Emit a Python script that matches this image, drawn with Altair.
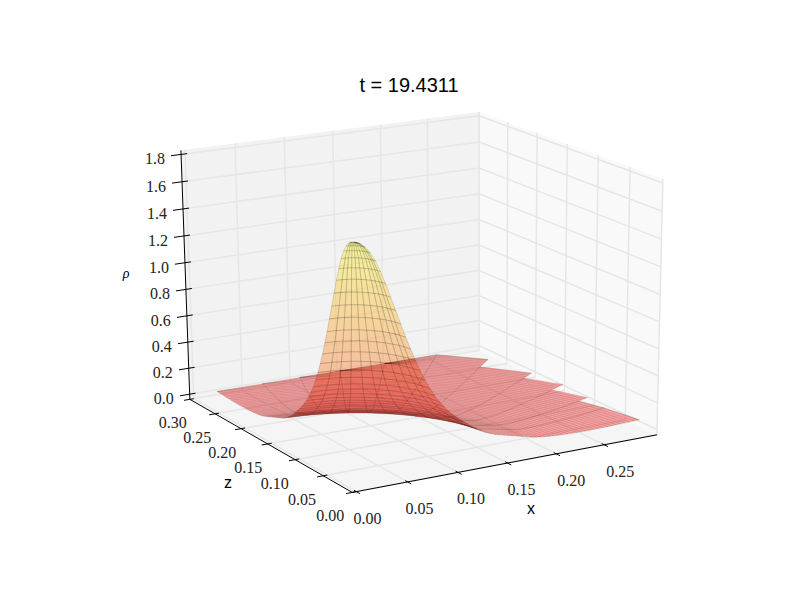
import numpy as np
import pandas as pd
import altair as alt

TITLE = "t = 19.4311"
X_TICKS = [0.00, 0.05, 0.10, 0.15, 0.20, 0.25]
Z_TICKS = [0.00, 0.05, 0.10, 0.15, 0.20, 0.25, 0.30]
RHO_TICKS = [0.0, 0.2, 0.4, 0.6, 0.8, 1.0, 1.2, 1.4, 1.6, 1.8]
X_MIN, X_MAX, Z_MIN, Z_MAX, RHO_MIN, RHO_MAX = -0.004, 0.306, 0.0, 0.30, -0.04, 1.83

# surface: polar sectors around the origin, radial rings, density on each ring
THETA_DEG = [5.5, 14, 19.5, 26.5, 33.3, 41.5, 49, 56, 63, 70, 77, 86]
SECTOR_R_LO = [0.309, 0.309, 0.322, 0.342, 0.360, 0.385, 0.388, 0.353, 0.329, 0.312, 0.301]
SECTOR_R_HI = [0.309, 0.309, 0.322, 0.342, 0.360, 0.388, 0.353, 0.329, 0.312, 0.301, 0.294]
RING_R = [0.0025 + 0.005 * i for i in range(80)]
RING_RHO = [1.70, 1.685, 1.655, 1.61, 1.55, 1.47, 1.38, 1.28, 1.18, 1.08,
            0.98, 0.89, 0.80, 0.72, 0.645, 0.58, 0.52, 0.47, 0.425, 0.385,
            0.35, 0.32, 0.29, 0.265, 0.235, 0.21, 0.19, 0.17, 0.155, 0.14,
            0.13, 0.12, 0.11, 0.10, 0.09, 0.08, 0.07, 0.06, 0.052, 0.045,
            0.04, 0.036, 0.032, 0.028, 0.025, 0.022, 0.02, 0.018, 0.016, 0.014,
            0.012, 0.011, 0.010, 0.009, 0.008, 0.007, 0.007, 0.006, 0.006, 0.005,
            0.005, 0.005, 0.005, 0.005, 0.005, 0.005, 0.005, 0.005, 0.004, 0.004,
            0.004, 0.004, 0.004, 0.004, 0.004, 0.004, 0.004, 0.004, 0.004, 0.004]

# camera calibration: cube corners -> image position
CUBE = [(0, 0, 0), (1, 0, 0), (0, 1, 0), (1, 1, 0), (0, 1, 1), (1, 1, 1), (1, 0, 1)]
IMG = [(352, 492), (657, 435), (190, 400), (479, 350), (181, 150), (479, 112), (663, 179)]
rows = []
for (a, b, c), (u, v) in zip(CUBE, IMG):
    rows.append([a, b, c, 1, 0, 0, 0, 0, -u * a, -u * b, -u * c, -u])
    rows.append([0, 0, 0, 0, a, b, c, 1, -v * a, -v * b, -v * c, -v])
P = np.linalg.svd(np.array(rows, float))[2][-1].reshape(3, 4)


def proj(x, z, rho):
    q = P @ np.array([(x - X_MIN) / (X_MAX - X_MIN), (z - Z_MIN) / (Z_MAX - Z_MIN),
                      (rho - RHO_MIN) / (RHO_MAX - RHO_MIN), 1.0])
    return q[0] / q[2], q[1] / q[2]


def seg_rows(segments, gid0=0):
    out = []
    for i, seg in enumerate(segments):
        for j, p in enumerate(seg):
            u, v = proj(*p)
            out.append({"px": u, "py": v, "gid": gid0 + i, "o": j})
    return pd.DataFrame(out)


sx = alt.Scale(domain=[8, 792], range=[0, 784], nice=False, zero=False)
sy = alt.Scale(domain=[8, 592], range=[0, 584], nice=False, zero=False)
X = alt.X("px:Q", scale=sx, axis=None)
Y = alt.Y("py:Q", scale=sy, axis=None)
base = dict(x=X, y=Y, detail="gid:N", order="o:Q")

# panes
panes = [
    ("floor", [(X_MIN, Z_MIN, RHO_MIN), (X_MAX, Z_MIN, RHO_MIN), (X_MAX, Z_MAX, RHO_MIN), (X_MIN, Z_MAX, RHO_MIN)]),
    ("left", [(X_MIN, Z_MAX, RHO_MIN), (X_MAX, Z_MAX, RHO_MIN), (X_MAX, Z_MAX, RHO_MAX), (X_MIN, Z_MAX, RHO_MAX)]),
    ("right", [(X_MAX, Z_MIN, RHO_MIN), (X_MAX, Z_MAX, RHO_MIN), (X_MAX, Z_MAX, RHO_MAX), (X_MAX, Z_MIN, RHO_MAX)]),
]
pane_df = seg_rows([p[1] for p in panes])
pane_df["pane"] = pane_df["gid"].map(lambda g: panes[g][0])
pane_layer = alt.Chart(pane_df).mark_line(filled=True, interpolate="linear-closed", strokeWidth=0).encode(
    fill=alt.Fill("pane:N", scale=alt.Scale(domain=["floor", "left", "right"],
                                            range=["#f5f5f5", "#f2f2f2", "#f9f9f9"]), legend=None),
    **base)

# grid
grid = []
for t in X_TICKS:
    grid.append([(t, Z_MIN, RHO_MIN), (t, Z_MAX, RHO_MIN), (t, Z_MAX, RHO_MAX)])
for t in Z_TICKS:
    grid.append([(X_MIN, t, RHO_MIN), (X_MAX, t, RHO_MIN), (X_MAX, t, RHO_MAX)])
for t in RHO_TICKS:
    grid.append([(X_MIN, Z_MAX, t), (X_MAX, Z_MAX, t), (X_MAX, Z_MIN, t)])
grid_layer = alt.Chart(seg_rows(grid)).mark_line(color="#e6e6e6", strokeWidth=1.5).encode(**base)

# surface cells
theta = np.radians(THETA_DEG)
cells = []
nring = len(RING_R)
for k in range(len(theta) - 1):
    lo, hi = theta[k], theta[k + 1]
    rlo, rhi = SECTOR_R_LO[k], SECTOR_R_HI[k]
    for j in range(nring - 1):
        r0, r1 = RING_R[j], RING_R[j + 1]
        a0, a1, b0, b1 = min(r0, rlo), min(r1, rlo), min(r0, rhi), min(r1, rhi)
        if a0 == a1 and b0 == b1:
            continue
        verts = [(a0 * np.cos(lo), a0 * np.sin(lo), RING_RHO[j]),
                 (a1 * np.cos(lo), a1 * np.sin(lo), RING_RHO[j + 1]),
                 (b1 * np.cos(hi), b1 * np.sin(hi), RING_RHO[j + 1]),
                 (b0 * np.cos(hi), b0 * np.sin(hi), RING_RHO[j])]
        cells.append((r0, (RING_RHO[j] + RING_RHO[j + 1]) / 2, verts))
cells.sort(key=lambda c: c[0])
srf = []
for i, (r0, val, verts) in enumerate(cells):
    for j, p in enumerate(verts):
        u, v = proj(*p)
        srf.append({"px": u, "py": v, "gid": i, "o": j, "val": val, "zone": "in" if r0 < 0.13 else "out"})
srf_df = pd.DataFrame(srf)
surface = alt.Chart(srf_df).mark_line(filled=True, interpolate="linear-closed", stroke="black",
                                      strokeWidth=0.3, fillOpacity=0.35).encode(
    fill=alt.Fill("val:Q", scale=alt.Scale(domain=[0.005, 1.7], range=["#ff0000", "#ffff00"],
                                           interpolate="rgb"), legend=None),
    strokeOpacity=alt.StrokeOpacity("zone:N", scale=alt.Scale(domain=["in", "out"], range=[0.42, 0.25]), legend=None),
    **base)

# axes and ticks
axes = [[(X_MIN, Z_MIN, RHO_MIN), (X_MAX, Z_MIN, RHO_MIN)], [(X_MIN, Z_MIN, RHO_MIN), (X_MIN, Z_MAX, RHO_MIN)],
        [(X_MIN, Z_MAX, RHO_MIN), (X_MIN, Z_MAX, RHO_MAX)]]
ticks = []
for t in X_TICKS:
    ticks.append([(t, -0.006, RHO_MIN), (t, 0.004, RHO_MIN)])
for t in Z_TICKS:
    ticks.append([(X_MIN - 0.006, t, RHO_MIN), (X_MIN + 0.004, t, RHO_MIN)])
for t in RHO_TICKS:
    ticks.append([(X_MIN - 0.010, Z_MAX, t), (X_MIN + 0.006, Z_MAX, t)])
axis_layer = alt.Chart(seg_rows(axes + ticks)).mark_line(color="black", strokeWidth=1).encode(**base)

# tick labels
labs = []
for t in X_TICKS:
    u, v = proj(t, Z_MIN, RHO_MIN)
    labs.append({"px": u + 11 + 5 * t / 0.25, "py": v + 27, "s": f"{t:.2f}"})
for t in Z_TICKS:
    u, v = proj(X_MIN, t, RHO_MIN)
    labs.append({"px": u - 22 + 5 * t / 0.3, "py": v + 24, "s": f"{t:.2f}"})
for t in RHO_TICKS:
    u, v = proj(X_MIN, Z_MAX, t)
    labs.append({"px": u - 26, "py": v + 5, "s": f"{t:.1f}"})
text_layer = alt.Chart(pd.DataFrame(labs)).mark_text(
    font="Liberation Serif", fontSize=16, color="#222222", align="center", baseline="middle"
).encode(x=X, y=Y, text="s:N")

names = pd.DataFrame([{"px": 531, "py": 509, "s": "x"}, {"px": 228, "py": 483, "s": "z"}])
name_layer = alt.Chart(names).mark_text(
    font="Liberation Sans", fontSize=16, color="black", align="center", baseline="middle"
).encode(x=X, y=Y, text="s:N")
rho_layer = alt.Chart(pd.DataFrame([{"px": 126, "py": 274, "s": "ρ"}])).mark_text(
    font="Liberation Serif", fontStyle="italic", fontSize=14, color="black", align="center", baseline="middle"
).encode(x=X, y=Y, text="s:N")

chart = alt.layer(pane_layer, grid_layer, surface, axis_layer, text_layer, name_layer, rho_layer).properties(
    width=784, height=584, padding=0, autosize=alt.AutoSizeParams(type="none"),
    title=alt.TitleParams(TITLE, font="Liberation Sans", fontSize=20, fontWeight="normal", color="black",
                          anchor="middle", orient="top", dx=9, dy=104, baseline="alphabetic", offset=0),
).configure_view(stroke=None)
chart.save("out.html", embed_options={"renderer": "svg", "actions": False})
